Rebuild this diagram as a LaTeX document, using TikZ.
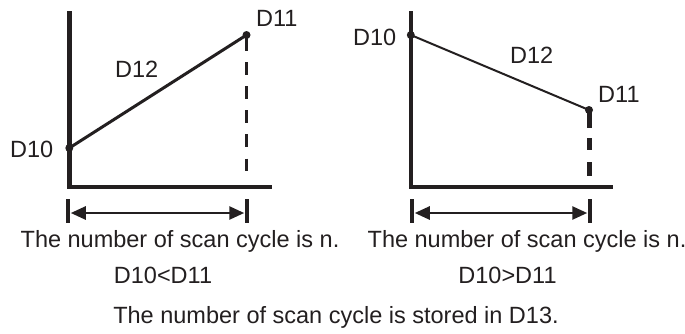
\documentclass[tikz,border=0pt]{standalone}
\usepackage{fontspec}
\setmainfont{Liberation Sans}
\usetikzlibrary{arrows.meta}
\definecolor{ink}{RGB}{35,31,32}
\tikzset{
  axis/.style={draw=ink,line width=4.4pt,line join=miter,line cap=butt},
  dot/.style={circle,fill=ink,inner sep=0pt,minimum size=8pt},
  lbl/.style={inner sep=0pt,text=ink,font=\fontsize{23.5}{28}\selectfont},
  tickline/.style={draw=ink,line width=3.5pt},
  span/.style={draw=ink,line width=2.6pt,{Triangle[length=15pt,width=13pt]}-{Triangle[length=15pt,width=13pt]},shorten <=1pt,shorten >=1pt},
}
\begin{document}
\begin{tikzpicture}[x=1pt,y=-1pt]
\useasboundingbox[fill=white] (0,0) rectangle (685,333);
% ---------- left graph ----------
\coordinate (la) at (69.3,11);
\coordinate (lo) at (69.3,187);
\coordinate (le) at (272,187);
\draw[axis] (la) -- (lo) -- (le);
\node[dot] (l10) at (69.3,148) {};
\node[dot] (l11) at (246.5,35) {};
\draw[draw=ink,line width=3pt] (l10.center) -- (l11.center);
\coordinate (l11b) at (246.5,173);
\draw[draw=ink,line width=3pt,dash pattern=on 12.5pt off 11.6pt] (246.5,38) -- (l11b);
\node[lbl,anchor=base west] (tl11) at (256,26) {D11};
\node[lbl,anchor=base west] (tl12) at (115,77) {D12};
\node[lbl,anchor=base west] (tl10) at (10,157) {D10};
% ---------- right graph ----------
\coordinate (ra) at (410.8,11);
\coordinate (ro) at (410.8,187);
\coordinate (re) at (613,187);
\draw[axis] (ra) -- (ro) -- (re);
\node[dot] (r10) at (410.8,35) {};
\node[dot] (r11) at (589,110) {};
\draw[draw=ink,line width=2pt] (r10.center) -- (r11.center);
\coordinate (r11b) at (589,176);
\draw[draw=ink,line width=5pt,dash pattern=on 18pt off 10pt on 12pt off 12pt on 14pt off 10pt] (r11.center) -- (r11b);
\node[lbl,anchor=base west] (tr10) at (353,45) {D10};
\node[lbl,anchor=base west] (tr12) at (510,63) {D12};
\node[lbl,anchor=base west] (tr11) at (598,102) {D11};
% ---------- left span ----------
\coordinate (lt1a) at (68,199);
\coordinate (lt1b) at (68,223);
\coordinate (lt2a) at (247,199);
\coordinate (lt2b) at (247,223);
\draw[tickline] (lt1a) -- (lt1b);
\draw[tickline] (lt2a) -- (lt2b);
\coordinate (ls1) at (69.75,213);
\coordinate (ls2) at (245.25,213);
\draw[span] (ls1) -- (ls2);
% ---------- right span ----------
\coordinate (rt1a) at (412,199);
\coordinate (rt1b) at (412,223);
\coordinate (rt2a) at (590,199);
\coordinate (rt2b) at (590,223);
\draw[tickline] (rt1a) -- (rt1b);
\draw[tickline] (rt2a) -- (rt2b);
\coordinate (rs1) at (413.75,213);
\coordinate (rs2) at (588.25,213);
\draw[span] (rs1) -- (rs2);
% ---------- texts ----------
\node[lbl,anchor=base] (nl) at (180,247) {The number of scan cycle is n.};
\node[lbl,anchor=base] (nr) at (527,247) {The number of scan cycle is n.};
\node[lbl,anchor=base] (cl) at (163,283) {D10<D11};
\node[lbl,anchor=base] (cr) at (507.5,283) {D10>D11};
\node[lbl,anchor=base] (st) at (336,323) {The number of scan cycle is stored in D13.};
\end{tikzpicture}
\end{document}
